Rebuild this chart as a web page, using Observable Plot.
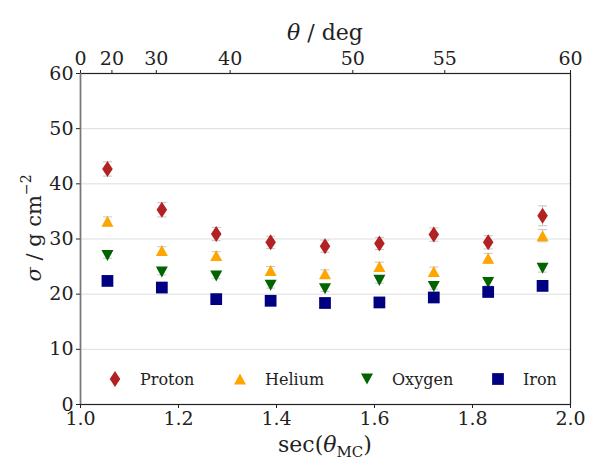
<!DOCTYPE html>
<html>
<head>
<meta charset="utf-8">
<script src="https://cdn.jsdelivr.net/npm/d3@7"></script>
<script src="https://cdn.jsdelivr.net/npm/@observablehq/plot@0.6"></script>
<style>
  body { margin: 0; background: #fff; }
  #chart { width: 604px; height: 470px; }
  #chart svg, #chart svg text { font-family: 'DejaVu Serif', serif !important; }
</style>
</head>
<body>
<div id="chart"></div>
<script>
// sec(theta_MC) bin centres
const secTheta = [1.055, 1.166, 1.277, 1.388, 1.499, 1.610, 1.721, 1.832, 1.943];
// sigma values (g cm^-2)
const proton = [42.7, 35.3, 30.9, 29.4, 28.7, 29.2, 30.8, 29.4, 34.2];
const helium = [33.2, 27.9, 27.0, 24.3, 23.7, 25.0, 24.1, 26.5, 30.6];
const oxygen = [27.0, 24.0, 23.3, 21.6, 21.0, 22.5, 21.4, 22.1, 24.7];
const iron   = [22.4, 21.2, 19.1, 18.8, 18.4, 18.5, 19.4, 20.4, 21.5];
// uncertainties
const protonErr = [1.3, 1.3, 1.2, 1.1, 1.1, 1.1, 1.2, 1.2, 1.8];
const heliumErr = [0.8, 0.7, 0.7, 0.7, 0.7, 0.8, 0.8, 0.9, 1.1];
const oxygenErr = [0.5, 0.5, 0.5, 0.5, 0.5, 0.5, 0.5, 0.6, 0.7];
const ironErr   = [0.4, 0.4, 0.4, 0.4, 0.4, 0.4, 0.4, 0.5, 0.5];
// axes
const xTicks = [1.0, 1.2, 1.4, 1.6, 1.8, 2.0];
const yTicks = [0, 10, 20, 30, 40, 50, 60];
const gridY = [10, 20, 30, 40, 50];
const thetaTicks = [0, 20, 30, 40, 50, 55, 60];
const seriesNames = ["Proton", "Helium", "Oxygen", "Iron"];
const seriesColors = ["#b22222", "#ffa500", "#006400", "#000080"];

// marker shapes (scale with r)
const sym = {
  Proton: {draw(c, size) { const r = Math.sqrt(size / Math.PI); const h = 1.33 * r, w = 0.88 * r;
    c.moveTo(0, -h); c.lineTo(w, 0); c.lineTo(0, h); c.lineTo(-w, 0); c.closePath(); }},
  Helium: {draw(c, size) { const r = Math.sqrt(size / Math.PI); const h = 0.92 * r;
    c.moveTo(0, -h); c.lineTo(r, h); c.lineTo(-r, h); c.closePath(); }},
  Oxygen: {draw(c, size) { const r = Math.sqrt(size / Math.PI); const h = 0.92 * r;
    c.moveTo(0, h); c.lineTo(r, -h); c.lineTo(-r, -h); c.closePath(); }},
  Iron: {draw(c, size) { const r = Math.sqrt(size / Math.PI); const s = 0.98 * r;
    c.moveTo(-s, -s); c.lineTo(s, -s); c.lineTo(s, s); c.lineTo(-s, s); c.closePath(); }}
};
const capSym = {draw(c, size) { const r = Math.sqrt(size / Math.PI); c.moveTo(-r, 0); c.lineTo(r, 0); }};

const vals = {Proton: proton, Helium: helium, Oxygen: oxygen, Iron: iron};
const errs = {Proton: protonErr, Helium: heliumErr, Oxygen: oxygenErr, Iron: ironErr};
const rows = [];
for (const s of seriesNames) secTheta.forEach((x, i) => rows.push({series: s, x, y: vals[s][i], e: errs[s][i]}));

const sec = d => 1 / Math.cos(d * Math.PI / 180);
const F = "'DejaVu Serif', serif";

const marks = [
  Plot.ruleY(gridY, {stroke: "#dddddd", strokeWidth: 1}),
  Plot.ruleX(rows, {x: "x", y1: d => d.y - d.e, y2: d => d.y + d.e, stroke: "#c4c4c4", strokeWidth: 1}),
  Plot.dot(rows, {x: "x", y: d => d.y - d.e, r: 4.5, symbol: capSym, stroke: "#c4c4c4", strokeWidth: 1, fill: "none"}),
  Plot.dot(rows, {x: "x", y: d => d.y + d.e, r: 4.5, symbol: capSym, stroke: "#c4c4c4", strokeWidth: 1, fill: "none"}),
];
seriesNames.forEach((s, k) => {
  marks.push(Plot.dot(rows.filter(d => d.series === s), {x: "x", y: "y", r: 6, symbol: sym[s], fill: seriesColors[k], stroke: "none"}));
});
marks.push(
  Plot.axisX({anchor: "bottom", ticks: xTicks, tickFormat: d3.format(".1f"), tickSize: 4, tickPadding: 3, fontSize: 19, fontFamily: F, label: null, color: "#222"}),
  Plot.axisX({anchor: "top", ticks: thetaTicks.map(sec), tickFormat: (d, i) => String(thetaTicks[i]), tickSize: 4, tickPadding: 5, fontSize: 19, fontFamily: F, label: null, color: "#222"}),
  Plot.axisY({anchor: "left", ticks: yTicks, tickSize: 4, tickPadding: 3, fontSize: 19, fontFamily: F, label: null, color: "#222"}),
  Plot.frame({stroke: "#222", strokeWidth: 1.2}),
  Plot.ruleX([1.0], {stroke: "#777", strokeWidth: 1.5})
);

const chart = Plot.plot({
  width: 604, height: 470,
  marginLeft: 80, marginRight: 34, marginTop: 73, marginBottom: 66,
  x: {domain: [1.0, 2.0]},
  y: {domain: [0, 60]},
  style: {fontFamily: F, background: "#fff"},
  marks
});
document.getElementById("chart").appendChild(chart);

// axis titles and legend
const svg = d3.select(chart);
function txt(x, y, size, anchor) {
  return svg.append("text").attr("x", x).attr("y", y).attr("text-anchor", anchor)
    .attr("font-family", F).style("font-size", size + "px").style("font-family", F).attr("fill", "#222");
}
const xl = txt(325, 452, 22, "middle");
xl.append("tspan").text("sec(");
xl.append("tspan").attr("font-style", "italic").text("θ");
xl.append("tspan").style("font-size", "15px").attr("dy", 5).text("MC");
xl.append("tspan").attr("dy", -5).text(")");

const tl = txt(325, 40, 22, "middle");
tl.append("tspan").attr("font-style", "italic").text("θ");
tl.append("tspan").text(" / deg");

const yl = svg.append("text").attr("transform", "translate(41,228) rotate(-90)").attr("text-anchor", "middle")
  .attr("font-family", F).style("font-size", "21px").style("font-family", F).attr("fill", "#222");
yl.append("tspan").attr("font-style", "italic").text("σ");
yl.append("tspan").text(" / g cm");
yl.append("tspan").style("font-size", "14px").attr("dy", -10).text("−2");

const legX = [115, 240, 367, 498];
const legY = 379;
seriesNames.forEach((s, k) => {
  const p = d3.path();
  sym[s].draw(p, 36 * Math.PI);
  svg.append("path").attr("d", p.toString()).attr("transform", `translate(${legX[k]},${legY})`).attr("fill", seriesColors[k]);
  txt(legX[k] + 25, legY + 6, 16, "start").text(s);
});
</script>
</body>
</html>
